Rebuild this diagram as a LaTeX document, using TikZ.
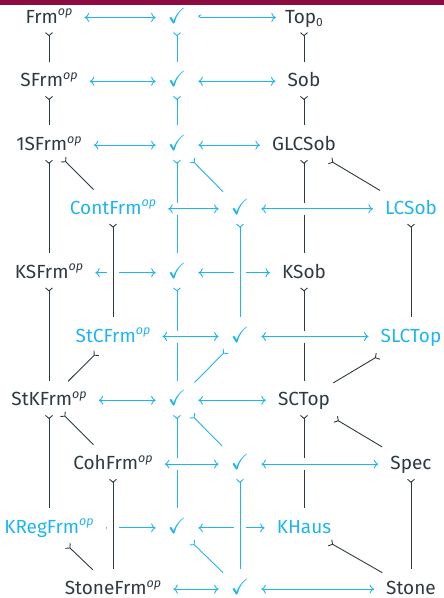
\documentclass[tikz,border=0pt]{standalone}
\usepackage{fontspec}
\usepackage{amssymb}
\setmainfont{Fira Sans}
\usetikzlibrary{arrows.meta}
\definecolor{cy}{RGB}{30,182,236}
\definecolor{dk}{RGB}{45,58,66}
\definecolor{barc}{RGB}{140,12,66}
\newcommand\opx{\raisebox{7.5pt}{\fontsize{12.5}{13}\selectfont\itshape op}}
\newcommand\subz{\raisebox{-3pt}{\fontsize{12}{13}\selectfont 0}}
\newcommand\ck{{\fontsize{22}{24}\selectfont$\checkmark$}}
\tikzset{
  nd/.style={inner sep=0pt, text height=11pt, text depth=0pt, anchor=base,
    font=\fontsize{19}{22}\selectfont, text=dk},
  cn/.style={nd, text=cy},
  tl/.tip={Straight Barb[reversed,length=3pt,width=7pt]},
  hd/.tip={To[length=4.5pt,width=9pt]},
  ln/.style={line width=0.9pt},
  dbl/.style={ln, draw=cy, hd-hd, shorten <=12pt, shorten >=12pt},
  vt/.style={ln, tl-, shorten <=9pt, shorten >=14pt},
  dg/.style 2 args={ln, tl-, shorten <=#1, shorten >=#2},
  ov/.style={preaction={draw=white, line width=12pt, arrows=-}},
}
\begin{document}
\begin{tikzpicture}[x=1pt,y=1pt]
\useasboundingbox (0,0) rectangle (444,-598);
\fill[barc] (0,0) rectangle (444,-4.5);
% back layer
\node[nd] (Frm) at (49,-23) {Frm\opx};
\node[cn] (c1) at (177,-23) {\ck};
\node[nd] (Top) at (304,-23) {Top\subz};
\node[nd] (SFrm) at (49,-86.8) {SFrm\opx};
\node[cn] (c2) at (177,-86.8) {\ck};
\node[nd] (Sob) at (304,-86.8) {Sob};
\node[nd] (OSFrm) at (49,-150.6) {1SFrm\opx};
\node[cn] (c3) at (177,-150.6) {\ck};
\node[nd] (GLCSob) at (304,-150.6) {GLCSob};
\node[nd] (KSFrm) at (49,-278.2) {KSFrm\opx};
\node[cn] (c4) at (177,-278.2) {\ck};
\node[nd] (KSob) at (304,-278.2) {KSob};
\node[nd] (StKFrm) at (49,-405.8) {StKFrm\opx};
\node[cn] (c5) at (177,-405.8) {\ck};
\node[nd] (SCTop) at (304,-405.8) {SCTop};
\node[cn] (KRegFrm) at (49,-533.4) {KRegFrm\opx};
\node[cn] (c6) at (177,-533.4) {\ck};
\node[cn] (KHaus) at (304,-533.4) {KHaus};
% front layer
\node[cn] (ContFrm) at (113,-214.4) {ContFrm\opx};
\node[cn] (f1) at (240,-214.4) {\ck};
\node[cn] (LCSob) at (411,-214.4) {LCSob};
\node[cn] (StCFrm) at (113,-342) {StCFrm\opx};
\node[cn] (f2) at (240,-342) {\ck};
\node[cn] (SLCTop) at (411,-342) {SLCTop};
\node[nd] (CohFrm) at (113,-469.6) {CohFrm\opx};
\node[cn] (f3) at (240,-469.6) {\ck};
\node[nd] (Spec) at (411,-469.6) {Spec};
\node[nd] (StoneFrm) at (113,-594.6) {StoneFrm\opx};
\node[cn] (f4) at (240,-594.6) {\ck};
\node[nd] (Stone) at (411,-594.6) {Stone};
% back horizontals
\draw[dbl] (Frm) -- (c1);
\draw[ln, draw=cy, {Hooks[right,length=3pt,width=6pt]}-hd, shorten <=12pt, shorten >=9pt] (c1) -- (Top);
\draw[dbl] (SFrm) -- (c2);
\draw[dbl] (c2) -- (Sob);
\draw[dbl] (OSFrm) -- (c3);
\draw[dbl] (c3) -- (GLCSob);
\draw[dbl] (KSFrm) -- (c4);
\draw[dbl] (c4) -- (KSob);
\draw[dbl] (StKFrm) -- (c5);
\draw[dbl] (c5) -- (SCTop);
\draw[dbl] (KRegFrm) -- (c6);
\draw[dbl] (c6) -- (KHaus);
% back verticals
\foreach \a/\b in {Frm/SFrm, SFrm/OSFrm, OSFrm/KSFrm, KSFrm/StKFrm, StKFrm/KRegFrm,
  Top/Sob, Sob/GLCSob, GLCSob/KSob, KSob/SCTop, SCTop/KHaus}
  \draw[vt, draw=dk] (\a) -- (\b);
\foreach \a/\b in {c1/c2, c2/c3, c3/c4, c4/c5, c5/c6}
  \draw[vt, draw=cy] (\a) -- (\b);
% diagonals
\draw[dg={20pt}{27.5pt}, draw=dk] (OSFrm.center) -- (ContFrm.center);
\draw[dg={21pt}{24pt}, draw=cy] (c3.center) -- (f1.center);
\draw[dg={30pt}{36pt}, draw=dk] (GLCSob.center) -- (LCSob.center);
\draw[dg={23pt}{27pt}, draw=dk] (StCFrm.center) -- (StKFrm.center);
\draw[dg={20pt}{25pt}, draw=cy] (f2.center) -- (c5.center);
\draw[dg={38pt}{34pt}, draw=dk] (SLCTop.center) -- (SCTop.center);
\draw[dg={19pt}{27.5pt}, draw=dk] (StKFrm.center) -- (CohFrm.center);
\draw[dg={21pt}{25.5pt}, draw=cy] (c5.center) -- (f3.center);
\draw[dg={36.5pt}{33.5pt}, draw=dk] (SCTop.center) -- (Spec.center);
\draw[dg={25.5pt}{28pt}, draw=dk] (KRegFrm.center) -- (StoneFrm.center);
\draw[dg={20.5pt}{23.5pt}, draw=cy] (c6.center) -- (f4.center);
\draw[dg={29.5pt}{33pt}, draw=dk] (KHaus.center) -- (Stone.center);
% front verticals (over)
\foreach \a/\b in {ContFrm/StCFrm, CohFrm/StoneFrm, LCSob/SLCTop, Spec/Stone}
  \draw[vt, ov, draw=dk] (\a) -- (\b);
\foreach \a/\b in {f1/f2, f3/f4}
  \draw[vt, ov, draw=cy] (\a) -- (\b);
% front horizontals (over)
\foreach \a/\b in {ContFrm/f1, f1/LCSob, StCFrm/f2, f2/SLCTop, CohFrm/f3, f3/Spec, StoneFrm/f4, f4/Stone}
  \draw[dbl, ov] (\a) -- (\b);
\end{tikzpicture}
\end{document}
